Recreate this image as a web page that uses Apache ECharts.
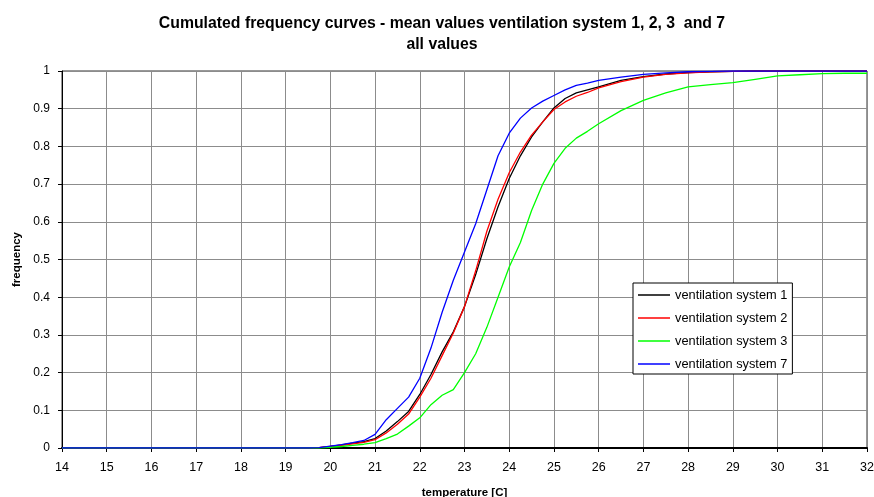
<!DOCTYPE html>
<html>
<head>
<meta charset="utf-8">
<script src="https://cdn.jsdelivr.net/npm/echarts@6/dist/echarts.min.js"></script>
<style>html,body{margin:0;padding:0;background:#fff}#c{width:874px;height:497px}</style>
</head>
<body>
<div id="c"></div>
<script>
const temps = [14, 19.5, 19.75, 20, 20.25, 20.5, 20.75, 21, 21.25, 21.5, 21.75, 22, 22.25, 22.5, 22.75, 23, 23.25, 23.5, 23.75, 24, 24.25, 24.5, 24.75, 25, 25.25, 25.5, 25.75, 26, 26.5, 27, 27.5, 28, 28.5, 29, 29.5, 30, 30.5, 31, 31.5, 32];
const sys1 = [0, 0, 0.001, 0.004, 0.008, 0.013, 0.017, 0.025, 0.045, 0.07, 0.097, 0.142, 0.195, 0.255, 0.308, 0.375, 0.46, 0.555, 0.64, 0.715, 0.775, 0.825, 0.865, 0.902, 0.927, 0.942, 0.95, 0.958, 0.975, 0.985, 0.992, 0.996, 0.998, 0.999, 1, 1, 1, 1, 1, 1];
const sys2 = [0, 0, 0.001, 0.004, 0.007, 0.011, 0.015, 0.022, 0.04, 0.063, 0.09, 0.135, 0.185, 0.245, 0.305, 0.375, 0.47, 0.575, 0.66, 0.73, 0.785, 0.83, 0.865, 0.898, 0.918, 0.933, 0.943, 0.955, 0.972, 0.984, 0.991, 0.995, 0.998, 0.999, 1, 1, 1, 1, 1, 1];
const sys3 = [0, 0, 0, 0.002, 0.004, 0.007, 0.01, 0.014, 0.025, 0.037, 0.058, 0.08, 0.115, 0.14, 0.155, 0.2, 0.25, 0.32, 0.4, 0.48, 0.545, 0.63, 0.7, 0.755, 0.795, 0.822, 0.84, 0.86, 0.895, 0.922, 0.942, 0.958, 0.964, 0.969, 0.978, 0.987, 0.99, 0.993, 0.994, 0.994];
const sys7 = [0, 0, 0.001, 0.005, 0.009, 0.014, 0.02, 0.036, 0.075, 0.105, 0.135, 0.185, 0.265, 0.36, 0.445, 0.52, 0.595, 0.685, 0.775, 0.835, 0.875, 0.902, 0.92, 0.935, 0.95, 0.962, 0.968, 0.975, 0.984, 0.991, 0.995, 0.998, 0.999, 1, 1, 1, 1, 1, 1, 1];
const seriesNames = ['ventilation system 1', 'ventilation system 2', 'ventilation system 3', 'ventilation system 7'];
const seriesColors = ['#000000', '#ff0000', '#00ff00', '#0000ff'];
const seriesValues = [sys1, sys2, sys3, sys7];

const FONT = '"Liberation Sans", Arial, sans-serif';
const chart = echarts.init(document.getElementById('c'), null, {renderer: 'canvas'});
chart.setOption({
  backgroundColor: '#ffffff',
  animation: false,
  title: {
    text: 'Cumulated frequency curves - mean values ventilation system 1, 2, 3  and 7\nall values',
    left: 442, top: 13, textAlign: 'center', padding: 0,
    textStyle: {fontFamily: FONT, fontSize: 15.8, fontWeight: 'bold', color: '#000', lineHeight: 21}
  },
  grid: {left: 62, right: 7, top: 71, bottom: 49, outerBoundsMode: 'none', containLabel: false,
    show: true, borderColor: '#303030', borderWidth: 1, backgroundColor: 'transparent'},
  legend: {
    orient: 'vertical', left: 633, top: 283,
    data: seriesNames.map((n, i) => ({name: n, icon: 'rect', itemStyle: {color: seriesColors[i]}})),
    itemWidth: 32, itemHeight: 1.5, itemGap: 9,
    padding: [5, 5, 3, 5],
    borderColor: '#000', borderWidth: 1, backgroundColor: '#fff',
    textStyle: {fontFamily: FONT, fontSize: 12.8, color: '#000', lineHeight: 14}
  },
  xAxis: {
    type: 'value', min: 14, max: 32, interval: 1,
    name: 'temperature [C]', nameLocation: 'middle', nameGap: 39,
    nameTextStyle: {fontFamily: FONT, fontSize: 11.5, fontWeight: 'bold', color: '#000'},
    axisLine: {onZero: false, lineStyle: {color: '#000', width: 2}},
    axisTick: {show: true, length: 4, lineStyle: {color: '#000'}},
    axisLabel: {fontFamily: FONT, fontSize: 12.5, color: '#000', margin: 13},
    splitLine: {show: true, lineStyle: {color: '#8c8c8c', width: 1}}
  },
  yAxis: {
    type: 'value', min: 0, max: 1, interval: 0.1,
    name: 'frequency', nameLocation: 'middle', nameGap: 38, nameRotate: 90,
    nameTextStyle: {fontFamily: FONT, fontSize: 11.5, fontWeight: 'bold', color: '#000'},
    axisLine: {show: true, lineStyle: {color: '#000', width: 1}},
    axisTick: {show: true, length: 4, lineStyle: {color: '#000'}},
    axisLabel: {fontFamily: FONT, fontSize: 12, color: '#000', margin: 12,
      formatter: v => String(+v.toFixed(1))},
    splitLine: {show: true, lineStyle: {color: '#8c8c8c', width: 1}}
  },
  series: seriesNames.map((n, i) => ({
    name: n, type: 'line', showSymbol: false, symbol: 'none',
    data: temps.map((t, j) => [t, seriesValues[i][j]]),
    lineStyle: {color: seriesColors[i], width: 1.3},
    itemStyle: {color: seriesColors[i]}
  }))
});
</script>
</body>
</html>
